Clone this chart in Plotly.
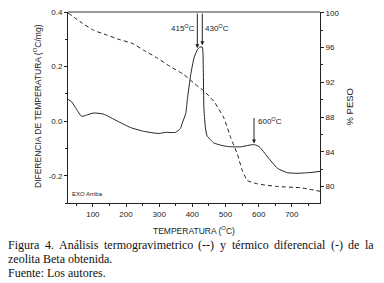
import plotly.graph_objects as go

# DTA (solid, left axis)
dta_temp = [25, 36, 50, 66, 80, 102, 132, 173, 213, 253, 299, 319, 349, 364, 369, 380, 385, 395, 405, 415, 423, 430, 433, 435, 440, 445, 455, 465, 486, 506, 526, 546, 571, 587, 602, 627, 657, 687, 718, 758, 785]
dta_val = [0.080, 0.071, 0.045, 0.018, 0.022, 0.030, 0.026, 0.001, -0.023, -0.037, -0.045, -0.041, -0.041, -0.027, -0.009, 0.028, 0.080, 0.170, 0.232, 0.262, 0.272, 0.272, 0.190, 0.045, -0.030, -0.056, -0.068, -0.080, -0.088, -0.093, -0.094, -0.094, -0.088, -0.086, -0.094, -0.131, -0.173, -0.189, -0.191, -0.188, -0.184]

# TG (dashed, right axis)
tg_temp = [25, 61, 102, 142, 182, 218, 253, 294, 334, 374, 405, 435, 465, 495, 516, 536, 551, 566, 597, 657, 728, 785]
tg_val = [100.0, 99.0, 98.0, 97.45, 96.9, 96.5, 95.7, 94.8, 93.8, 92.9, 91.9, 91.0, 89.8, 87.9, 85.6, 83.7, 81.8, 80.7, 80.3, 80.0, 79.85, 79.45]

x_ticks = [100, 200, 300, 400, 500, 600, 700]
left_ticks = [-0.2, 0.0, 0.2, 0.4]
left_tick_text = ["-0.2", "0.0", "0.2", "0.4"]
right_ticks = [80, 84, 88, 92, 96, 100]

caption_line1 = ["Figura", "4.", "Análisis", "termogravimetrico", "(--)", "y", "térmico", "diferencial", "(-)", "de", "la"]
caption_line2 = "zeolita Beta obtenida."
caption_line3 = "Fuente: Los autores."

FONT = "Liberation Sans, Arial, sans-serif"
SERIF = "Liberation Serif, Times New Roman, serif"

OFF = 8  # page body margin
W, H = 384 - OFF, 283 - OFF
L, T = 68 - OFF, 12 - OFF
R = W - (320 - OFF)
B = H - (203 - OFF)
PW, PH = W - L - R, H - T - B


def px(xp):
    return (xp - OFF - L) / PW


def py(yp):
    return (H - B - (yp - OFF)) / PH


fig = go.Figure()
fig.add_trace(go.Scatter(x=dta_temp, y=dta_val, mode="lines", line=dict(color="#222", width=1, shape="spline", smoothing=0.5), yaxis="y", showlegend=False))
fig.add_trace(go.Scatter(x=tg_temp, y=tg_val, mode="lines", line=dict(color="#222", width=1, dash="4px,3px", shape="spline", smoothing=0.5), yaxis="y2", showlegend=False))

fig.update_layout(
    width=W, height=H,
    margin=dict(l=L, r=R, t=T, b=B, autoexpand=False),
    plot_bgcolor="white", paper_bgcolor="white",
    font=dict(family=FONT, size=8, color="#222"),
    xaxis=dict(range=[25, 785], tickvals=x_ticks, ticks="outside", ticklen=3, tickcolor="#222",
               showline=True, linecolor="#222", linewidth=1, showgrid=False, zeroline=False, automargin=False,
               minor=dict(dtick=50, tick0=0, ticks="outside", ticklen=2, tickcolor="#222"),
               tickfont=dict(size=8)),
    yaxis=dict(range=[-0.3, 0.4005], tickvals=left_ticks, ticktext=left_tick_text, ticks="outside", ticklen=3, tickcolor="#222",
               showline=True, linecolor="#222", linewidth=1, showgrid=False, zeroline=False, automargin=False,
               ticklabeloverflow="allow",
               minor=dict(dtick=0.1, tick0=0.0, ticks="outside", ticklen=2, tickcolor="#222"),
               tickfont=dict(size=8)),
    yaxis2=dict(range=[78.1, 100.1], overlaying="y", side="right", tickvals=right_ticks, ticks="outside", ticklen=3, tickcolor="#222",
                showline=True, linecolor="#222", linewidth=1, showgrid=False, zeroline=False, automargin=False,
                ticklabeloverflow="allow",
                minor=dict(dtick=2, tick0=0, ticks="outside", ticklen=2, tickcolor="#222"),
                tickfont=dict(size=8)),
)

# top border (gray)
fig.add_shape(type="line", xref="paper", yref="paper", x0=0, x1=1, y0=1, y1=1, line=dict(color="#999", width=2))


def label(xp, yp, text, size=8, xanchor="center", angle=0, family=FONT, color="#222"):
    fig.add_annotation(x=px(xp), y=py(yp), xref="paper", yref="paper", text=text, showarrow=False,
                       xanchor=xanchor, yanchor="middle", textangle=angle, borderpad=0,
                       font=dict(family=family, size=size, color=color))


# axis titles
label(193.5, 230, "TEMPERATURA (<sup>O</sup>C)", size=8.5)
label(37, 106, "DIFERENCIA DE TEMPERATURA (<sup>O</sup>C/mg)", size=8.5, angle=-90)
label(348.5, 107, "% PESO", size=9.5, angle=-90)

# arrows
arrow_common = dict(showarrow=True, arrowhead=2, arrowsize=0.8, arrowwidth=1, arrowcolor="#222", ax=0, text="", xref="x", yref="y")
fig.add_annotation(x=415, y=0.268, ay=-36, **arrow_common)
fig.add_annotation(x=430, y=0.279, ay=-33, **arrow_common)
fig.add_annotation(x=586, y=-0.082, ay=-27, **arrow_common)

label(196, 28, "415<sup>O</sup>C", xanchor="right")
label(204, 28, "430<sup>O</sup>C", xanchor="left")
label(257, 121, "600<sup>O</sup>C", xanchor="left")
label(71, 194, "EXO Arriba", size=6, xanchor="left")

# caption (line 1 justified word by word)
word_x = [7, 43.6, 58.2, 102.8, 197.4, 219, 230.6, 273.2, 329.8, 347.4, 364]
for w, xw in zip(caption_line1, word_x):
    label(xw, 245, w, size=12, xanchor="left", family=SERIF, color="#111")
label(7, 259, caption_line2, size=12, xanchor="left", family=SERIF, color="#111")
label(7, 273, caption_line3, size=12, xanchor="left", family=SERIF, color="#111")

fig.write_html("out.html")
